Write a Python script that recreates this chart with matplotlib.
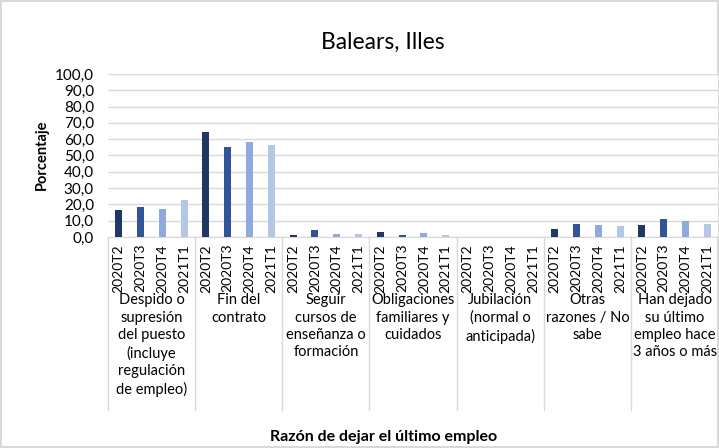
import numpy as np
import matplotlib
matplotlib.use("Agg")
import matplotlib.pyplot as plt
import matplotlib.transforms as mtransforms

plt.rcParams['font.family'] = ['Lato', 'DejaVu Sans']

# Data
categories = [
    "Despido o\nsupresión\ndel puesto\n(incluye\nregulación\nde empleo)",
    "Fin del\ncontrato",
    "Seguir\ncursos de\nenseñanza o\nformación",
    "Obligaciones\nfamiliares y\ncuidados",
    "Jubilación\n(normal o\nanticipada)",
    "Otras\nrazones / No\nsabe",
    "Han dejado\nsu último\nempleo hace\n3 años o más",
]
periods = ["2020T2", "2020T3", "2020T4", "2021T1"]
v_2020T2 = [16.7, 64.2, 1.2, 3.2, 0.0, 4.7, 7.5]
v_2020T3 = [18.2, 55.4, 4.3, 1.2, 0.0, 8.0, 10.8]
v_2020T4 = [17.2, 58.3, 2.0, 2.6, 0.0, 7.5, 10.0]
v_2021T1 = [22.5, 56.4, 2.0, 1.4, 0.0, 6.9, 8.0]
series = [v_2020T2, v_2020T3, v_2020T4, v_2021T1]
colors = ["#1F3864", "#2F5597", "#8FAADC", "#B4C7E7"]

fig = plt.figure(figsize=(7.19, 4.48), dpi=100)
fig.patch.set_edgecolor("#D9D9D9")
fig.patch.set_linewidth(1.5)
ax = fig.add_axes([0.150, 0.471, 0.849, 0.364])

n_per = len(periods)
for j, vals in enumerate(series):
    x = np.arange(len(categories)) * n_per + j
    ax.bar(x, vals, width=0.32, color=colors[j], zorder=3)

ax.set_ylim(0, 100)
ax.set_xlim(-0.5, len(categories) * n_per - 0.5)
ax.set_yticks(np.arange(0, 101, 10))
ax.set_yticklabels([f"{v:.1f}".replace(".", ",") for v in np.arange(0, 101, 10)], fontsize=11)
ax.grid(axis="y", color="#D9D9D9", linewidth=1, zorder=0)
for s in ["left", "right", "top"]:
    ax.spines[s].set_visible(False)
ax.spines["bottom"].set_color("#D9D9D9")
ax.tick_params(axis="y", length=0, pad=10)

# period tick labels
xt = np.arange(len(categories) * n_per)
ax.set_xticks(xt)
ax.set_xticklabels(periods * len(categories), rotation=90, fontsize=10)
ax.tick_params(axis="x", length=0, pad=5)

# group separators and group names
trans = mtransforms.blended_transform_factory(ax.transData, ax.transAxes)
for g in range(len(categories) + 1):
    xs = g * n_per - 0.5
    ax.plot([xs, xs], [0, -1.06], color="#D9D9D9", linewidth=1,
            transform=trans, clip_on=False)
for g, name in enumerate(categories):
    ax.text(g * n_per + 1.5, -0.345, name, transform=trans, ha="center",
            va="top", fontsize=10.5, linespacing=1.3)

fig.text(0.533, 0.905, "Balears, Illes", ha="center", va="center", fontsize=16.5)
fig.text(0.058, 0.655, "Porcentaje", rotation=90, ha="center", va="center",
         fontsize=10.5, fontweight="bold")
fig.text(0.534, 0.025, "Razón de dejar el último empleo", ha="center",
         va="center", fontsize=11.5, fontweight="bold")

fig.savefig("out.png", dpi=100, edgecolor=fig.get_edgecolor())
